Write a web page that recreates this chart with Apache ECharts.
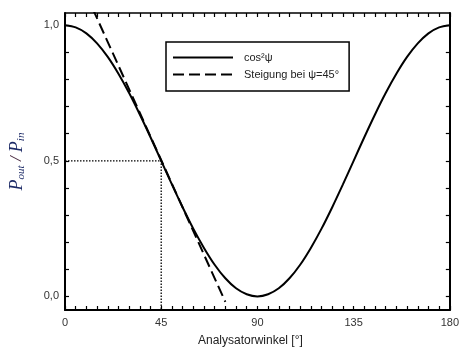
<!DOCTYPE html>
<html><head><meta charset="utf-8">
<script src="https://cdn.jsdelivr.net/npm/echarts@6/dist/echarts.min.js"></script>
<style>html,body{margin:0;padding:0;background:#fff}#c{width:462px;height:358px}</style>
</head><body><div id="c"></div>
<script>
// Analyzer angle (degrees) and transmitted fraction
const angles = [0,5,10,15,20,25,30,35,40,45,50,55,60,65,70,75,80,85,90,95,100,105,110,115,120,125,130,135,140,145,150,155,160,165,170,175,180];
const cos2Values = [1.000,0.992,0.970,0.933,0.883,0.821,0.750,0.671,0.587,0.500,0.413,0.329,0.250,0.179,0.117,0.067,0.030,0.008,0.000,0.008,0.030,0.067,0.117,0.179,0.250,0.329,0.413,0.500,0.587,0.671,0.750,0.821,0.883,0.933,0.970,0.992,1.000];
// Tangent (slope at 45°) end points
const tangentX = [13, 75];
const tangentY = [1.06, -0.02];
// Dotted guide lines marking 45° / 0.5
const guideX = [0, 45, 45];
const guideY = [0.5, 0.5, -0.05];
const xTickLabels = [0, 45, 90, 135, 180];
const yTickLabels = [0, 0.5, 1.0];
const xMinorTicks = angles;
const yMinorTicks = [0,0.1,0.2,0.3,0.4,0.5,0.6,0.7,0.8,0.9,1.0];
const seriesNames = ['cos²ψ', 'Steigung bei ψ=45°'];

const zip = (a, b) => a.map((v, i) => [v, b[i]]);
const font = 'Liberation Sans, Arial, sans-serif';
const serif = 'Liberation Serif, Times New Roman, serif';
const tick = {show: true, inside: true, length: 4, lineStyle: {color: '#000', width: 1.2}};

const chart = echarts.init(document.getElementById('c'), null, {renderer: 'canvas'});
chart.setOption({
  animation: false,
  backgroundColor: '#fff',
  grid: {left: 65, right: 10, top: 13, bottom: 48, containLabel: false},
  legend: {
    data: seriesNames,
    orient: 'vertical',
    left: 166, top: 42,
    itemWidth: 60, itemHeight: 10, itemGap: 6,
    padding: [10, 10, 11, 6],
    borderColor: '#000', borderWidth: 1.5,
    itemStyle: {opacity: 0},
    textStyle: {fontFamily: font, fontSize: 11, color: '#222', padding: [0, 0, 0, 6]}
  },
  xAxis: [{
    type: 'value', min: 0, max: 180, position: 'bottom',
    axisLine: {onZero: false, lineStyle: {color: '#000', width: 2}},
    axisTick: Object.assign({customValues: xMinorTicks}, tick),
    axisLabel: {customValues: xTickLabels, fontFamily: font, fontSize: 11, color: '#333', margin: 7},
    splitLine: {show: false},
    name: 'Analysatorwinkel [°]', nameLocation: 'middle', nameGap: 25,
    nameTextStyle: {fontFamily: font, fontSize: 12, color: '#222', padding: [0, 14, 0, 0]}
  }, {
    type: 'value', min: 0, max: 180, position: 'top',
    axisLine: {onZero: false, lineStyle: {color: '#000', width: 1.5}},
    axisTick: Object.assign({customValues: xMinorTicks}, tick),
    axisLabel: {show: false}, splitLine: {show: false}
  }],
  yAxis: [{
    type: 'value', min: -0.05, max: 1.045, position: 'left',
    axisLine: {onZero: false, lineStyle: {color: '#000', width: 2}},
    axisTick: Object.assign({customValues: yMinorTicks}, tick),
    axisLabel: {customValues: yTickLabels, fontFamily: font, fontSize: 11, color: '#333', margin: 6,
      formatter: v => v.toFixed(1).replace('.', ',')},
    splitLine: {show: false},
    name: '{p|P}{s|out}{sl| / }{p|P}{s|in}', nameLocation: 'middle', nameGap: 38, nameRotate: 90,
    nameTextStyle: {
      rich: {
        p: {fontFamily: serif, fontStyle: 'italic', fontSize: 18, color: '#1c2a66'},
        s: {fontFamily: serif, fontStyle: 'italic', fontSize: 11, color: '#1c2a66', padding: [9, 0, 0, 0]},
        sl: {fontFamily: serif, fontStyle: 'italic', fontSize: 17, color: '#4a2a40'}
      }
    }
  }, {
    type: 'value', min: -0.05, max: 1.045, position: 'right',
    axisLine: {onZero: false, lineStyle: {color: '#000', width: 2}},
    axisTick: Object.assign({customValues: yMinorTicks}, tick),
    axisLabel: {show: false}, splitLine: {show: false}
  }],
  series: [{
    name: seriesNames[0], type: 'line', xAxisIndex: 0, yAxisIndex: 0,
    data: zip(angles, cos2Values), smooth: 0.3, symbol: 'none', showSymbol: false,
    lineStyle: {color: '#000', width: 2}, itemStyle: {color: '#000'}, clip: true
  }, {
    name: seriesNames[1], type: 'line', xAxisIndex: 0, yAxisIndex: 0,
    data: zip(tangentX, tangentY), symbol: 'none', showSymbol: false,
    lineStyle: {color: '#000', width: 2, type: [11, 5]}, itemStyle: {color: '#000'}, clip: true
  }, {
    name: 'guide', type: 'line', xAxisIndex: 0, yAxisIndex: 0,
    data: zip(guideX, guideY), symbol: 'none', showSymbol: false,
    lineStyle: {color: '#000', width: 1.3, type: [1.5, 1.5]}, clip: true, z: 1
  }]
});
</script></body></html>
